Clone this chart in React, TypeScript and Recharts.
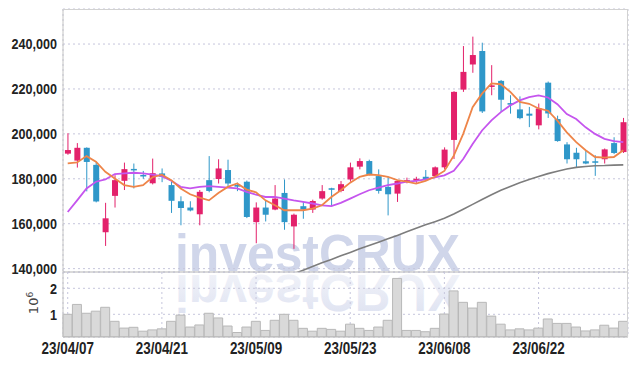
import { ComposedChart, Bar, Line, XAxis, YAxis, CartesianGrid } from "recharts";

const dates = [
  "23/04/07", "23/04/10", "23/04/11", "23/04/12", "23/04/13", "23/04/14", "23/04/17", "23/04/18", "23/04/19", "23/04/20",
  "23/04/21", "23/04/24", "23/04/25", "23/04/26", "23/04/27", "23/04/28", "23/05/02", "23/05/03", "23/05/04", "23/05/08",
  "23/05/09", "23/05/10", "23/05/11", "23/05/12", "23/05/15", "23/05/16", "23/05/17", "23/05/18", "23/05/19", "23/05/22",
  "23/05/23", "23/05/24", "23/05/25", "23/05/26", "23/05/30", "23/05/31", "23/06/01", "23/06/02", "23/06/05", "23/06/07",
  "23/06/08", "23/06/09", "23/06/12", "23/06/13", "23/06/14", "23/06/15", "23/06/16", "23/06/19", "23/06/20", "23/06/21",
  "23/06/22", "23/06/23", "23/06/26", "23/06/27", "23/06/28", "23/06/29", "23/06/30", "23/07/03", "23/07/04", "23/07/05",
];
const tickDates = ["23/04/07", "23/04/21", "23/05/09", "23/05/23", "23/06/08", "23/06/22"];

// prices in thousands
const open = [
  191.2, 188.1, 193.8, 186.2, 156.2, 172.4, 179.1, 184.4, 181.7, 178.0,
  182.4, 177.2, 170.0, 167.2, 164.2, 179.4, 179.9, 183.9, 177.3, 178.7,
  160.7, 167.2, 166.3, 173.7, 158.8, 167.8, 166.3, 171.2, 175.8, 174.6,
  179.7, 185.4, 187.9, 181.2, 176.4, 173.4, 178.9, 179.1, 180.9, 181.2,
  185.1, 197.3, 219.7, 230.9, 236.9, 220.9, 223.6, 213.7, 210.9, 209.0,
  203.8, 222.8, 206.6, 195.3, 191.6, 187.8, 187.8, 188.7, 195.9, 191.9,
];
const high = [
  200.3, 195.9, 194.0, 187.4, 169.3, 181.6, 187.2, 186.8, 183.5, 189.0,
  184.6, 178.7, 172.2, 170.0, 175.0, 190.1, 188.7, 188.5, 178.3, 179.2,
  169.5, 170.4, 177.2, 179.7, 164.5, 169.7, 170.7, 177.2, 176.0, 179.0,
  187.2, 189.1, 188.5, 184.2, 180.9, 179.5, 180.5, 180.9, 183.9, 185.5,
  194.0, 219.0, 239.1, 243.3, 240.6, 230.6, 224.0, 217.2, 216.7, 212.0,
  213.5, 223.3, 208.1, 196.3, 193.8, 192.7, 190.5, 193.5, 198.5, 207.1,
];
const low = [
  190.7, 185.0, 174.4, 169.5, 150.1, 167.2, 175.0, 175.7, 180.0, 177.5,
  178.5, 164.8, 159.3, 165.5, 159.3, 174.0, 177.9, 176.4, 174.5, 162.5,
  151.3, 161.0, 166.0, 157.3, 148.8, 162.2, 164.8, 170.7, 167.8, 174.0,
  178.7, 184.2, 181.5, 173.4, 163.7, 169.7, 178.0, 178.2, 179.0, 181.0,
  184.3, 188.8, 218.7, 227.2, 209.3, 217.2, 209.7, 209.0, 206.5, 203.0,
  202.0, 207.1, 196.5, 186.8, 185.0, 186.5, 181.3, 186.8, 191.0, 191.5,
];
const close = [
  192.8, 193.8, 187.5, 169.9, 162.4, 179.4, 184.3, 183.8, 181.3, 182.5,
  180.9, 170.2, 167.0, 165.9, 174.2, 174.6, 184.6, 177.9, 176.5, 163.0,
  167.2, 164.0, 171.2, 160.7, 164.0, 166.3, 170.1, 174.5, 175.1, 177.6,
  185.1, 187.9, 181.9, 174.6, 173.1, 179.0, 179.4, 180.0, 179.7, 185.1,
  193.0, 218.7, 227.6, 235.1, 210.0, 221.6, 215.2, 213.0, 207.0, 208.1,
  211.3, 209.1, 196.8, 188.7, 188.7, 186.8, 187.3, 193.1, 191.5, 205.2,
];
const ma5 = [
  186.9, 187.3, 190.1, 187.6, 183.1, 180.1, 177.2, 176.4, 177.2, 180.7,
  181.8, 179.4, 175.7, 173.1, 171.6, 170.4, 173.7, 176.4, 177.9, 175.2,
  174.0, 170.4, 168.2, 166.0, 166.0, 166.0, 166.7, 168.2, 171.9, 174.9,
  178.3, 180.9, 181.9, 181.6, 180.9, 179.4, 178.7, 177.9, 179.1, 180.9,
  183.5, 190.3, 200.0, 211.9, 217.9, 222.5, 222.1, 218.7, 214.2, 213.4,
  211.3, 210.3, 205.9, 200.7, 196.3, 192.7, 189.7, 189.4, 189.7, 192.7,
];
const ma20 = [
  165.2, 170.4, 175.7, 178.7, 179.7, 182.1, 182.4, 182.7, 182.4, 181.9,
  181.2, 179.1, 176.4, 175.7, 176.4, 176.7, 176.4, 176.1, 175.7, 174.2,
  172.9, 171.9, 171.9, 171.2, 170.4, 169.7, 169.0, 168.2, 167.8, 169.3,
  171.2, 173.1, 174.9, 176.1, 177.2, 177.9, 178.7, 179.1, 179.7, 180.6,
  181.5, 183.6, 188.8, 195.5, 201.5, 206.0, 209.7, 212.7, 214.9, 216.4,
  217.1, 216.2, 213.2, 208.8, 206.6, 202.9, 200.0, 197.8, 196.8, 196.3,
];
const ma60 = [
  null, null, null, null, null, null, null, null, null, null,
  null, null, null, null, null, null, null, null, null, null,
  null, null, null, null, 137.7, 139.3, 141.0, 142.6, 144.1, 145.7,
  147.2, 148.8, 150.3, 151.8, 153.3, 154.8, 156.4, 158.0, 159.5, 160.9,
  162.4, 164.3, 166.4, 168.6, 170.8, 172.9, 174.9, 176.6, 178.2, 179.7,
  181.0, 182.3, 183.4, 184.4, 185.1, 185.5, 185.8, 185.9, 186.1, 186.2,
];
// volume in millions
const volume = [
  1.00, 1.38, 1.04, 1.12, 1.27, 0.73, 0.47, 0.50, 0.35, 0.40,
  0.44, 0.73, 0.97, 0.51, 0.59, 1.04, 0.86, 0.55, 0.30, 0.51,
  0.73, 0.38, 0.77, 1.00, 0.77, 0.46, 0.35, 0.46, 0.42, 0.35,
  0.62, 0.46, 0.38, 0.51, 0.77, 2.38, 0.38, 0.38, 0.33, 0.46,
  1.01, 1.90, 1.46, 1.24, 1.46, 0.93, 0.62, 0.40, 0.44, 0.40,
  0.47, 0.82, 0.65, 0.65, 0.51, 0.36, 0.40, 0.58, 0.47, 0.73,
];

const priceTicks = [140000, 160000, 180000, 200000, 220000, 240000];
const volTicks = [1000000, 2000000];

const UP = "#e3216b";
const DOWN = "#2f97c9";
const FONT = "'Liberation Sans', Arial, sans-serif";

const rows = dates.map((d, i) => ({
  date: d,
  open: open[i] * 1000,
  high: high[i] * 1000,
  low: low[i] * 1000,
  close: close[i] * 1000,
  range: [low[i] * 1000, high[i] * 1000],
  ma5: ma5[i] * 1000,
  ma20: ma20[i] * 1000,
  ma60: ma60[i] == null ? null : (ma60[i] as number) * 1000,
  vol: volume[i] * 1000000,
}));

function Candle(props: any) {
  const { x, y, width, height, payload } = props;
  if (!payload) return null;
  const top = Math.min(y, y + height);
  const h = Math.abs(height);
  const k = h / (payload.high - payload.low || 1);
  const cx = x + width / 2;
  const yo = top + (payload.high - payload.open) * k;
  const yc = top + (payload.high - payload.close) * k;
  const color = payload.close >= payload.open ? UP : DOWN;
  const bodyTop = Math.min(yo, yc);
  const bodyH = Math.max(1.5, Math.abs(yo - yc));
  return (
    <g>
      <line x1={cx} x2={cx} y1={top} y2={top + h} stroke={color} strokeWidth={1} />
      <rect x={cx - 3} y={bodyTop} width={6} height={bodyH} fill={color} />
    </g>
  );
}

// condensed-looking labels: bold sans squeezed horizontally
function LeftTick(props: any) {
  const { x, y, payload, tickFormatter } = props;
  const label = tickFormatter ? tickFormatter(payload.value) : String(payload.value);
  return (
    <g transform={`translate(${x},${y}) scale(0.84,1)`}>
      <text textAnchor="end" dy="0.36em" fontSize={15} fontWeight={700} fill="#222" fontFamily={FONT}>{label}</text>
    </g>
  );
}

function DateTick(props: any) {
  const { x, y, payload } = props;
  return (
    <g transform={`translate(${x},${y}) scale(0.84,1)`}>
      <text textAnchor="middle" dy="0.71em" fontSize={16} fontWeight={700} fill="#222" fontFamily={FONT}>{payload.value}</text>
    </g>
  );
}

export default function App() {
  return (
    <div style={{ position: "absolute", left: 0, top: 0, width: 637, height: 366, background: "#fff", fontFamily: FONT }}>
      <svg width={637} height={366} style={{ position: "absolute", left: 0, top: 0 }}>
        <defs>
          <linearGradient id="refl" x1="0" y1="0" x2="0" y2="1">
            <stop offset="0" stopColor="#d7dcee" stopOpacity={0.9} />
            <stop offset="1" stopColor="#e6e9f4" stopOpacity={0.5} />
          </linearGradient>
        </defs>
        <text x={175} y={271} fontSize={52} fontWeight={700} fontFamily={FONT}
          fill="#d0d6ea" textLength={285} lengthAdjust="spacingAndGlyphs">investCRUX</text>
        <text x={175} y={271} fontSize={52} fontWeight={700} fontFamily={FONT}
          fill="url(#refl)" textLength={285} lengthAdjust="spacingAndGlyphs"
          transform="translate(0,546) scale(1,-1)">investCRUX</text>
      </svg>

      <div style={{ position: "absolute", left: 0, top: 0 }}>
        <ComposedChart width={637} height={283} data={rows} margin={{ top: 9, right: 9, bottom: 10, left: 0 }}>
          <CartesianGrid stroke="#c6c6dc" strokeDasharray="2 3" />
          <XAxis dataKey="date" ticks={tickDates} interval={0} tick={false} tickLine={false} height={1}
            axisLine={{ stroke: "#b4b4b4" }} />
          <YAxis width={63} domain={[138500, 255600]} allowDataOverflow ticks={priceTicks} interval={0}
            tickFormatter={(v: number) => v.toLocaleString("en-US")} tick={<LeftTick />}
            tickLine={false} tickSize={4} tickMargin={2} axisLine={{ stroke: "#c4c4c4" }} />
          <Bar dataKey="range" shape={<Candle />} isAnimationActive={false} />
          <Line dataKey="ma60" stroke="#7d7d7d" strokeWidth={1.6} dot={false} isAnimationActive={false} />
          <Line dataKey="ma20" stroke="#c555ee" strokeWidth={1.8} dot={false} isAnimationActive={false} />
          <Line dataKey="ma5" stroke="#ee8549" strokeWidth={1.8} dot={false} isAnimationActive={false} />
        </ComposedChart>
      </div>

      <div style={{ position: "absolute", left: 0, top: 272 }}>
        <ComposedChart width={637} height={94} data={rows} barCategoryGap={0}
          margin={{ top: 0, right: 9, bottom: 0, left: 0 }}>
          <CartesianGrid stroke="#c6c6dc" strokeDasharray="2 3" />
          <XAxis dataKey="date" ticks={tickDates} interval={0} height={29} tickLine={false} tickSize={4} tickMargin={2}
            tick={<DateTick />} axisLine={{ stroke: "#b4b4b4" }} />
          <YAxis width={63} domain={[127000, 2627000]} allowDataOverflow ticks={volTicks} interval={0}
            tickFormatter={(v: number) => String(v / 1000000)} tick={<LeftTick />}
            tickLine={false} tickSize={4} tickMargin={2} axisLine={{ stroke: "#c4c4c4" }} />
          <Bar dataKey="vol" fill="#d9d9d9" stroke="#b8b8b8" strokeWidth={1} isAnimationActive={false} />
        </ComposedChart>
      </div>

      <svg width={637} height={366} style={{ position: "absolute", left: 0, top: 0, pointerEvents: "none" }}>
        <line x1={63} x2={628} y1={9.5} y2={9.5} stroke="#d2d2d2" />
        <line x1={627.5} x2={627.5} y1={9} y2={337} stroke="#d2d2d2" />
        <text transform="translate(38,303) rotate(-90)" textAnchor="middle" fontSize={13} fill="#444"
          fontFamily="'DejaVu Sans', sans-serif">
          10<tspan dy={-5} fontSize={9}>6</tspan>
        </text>
      </svg>
    </div>
  );
}
